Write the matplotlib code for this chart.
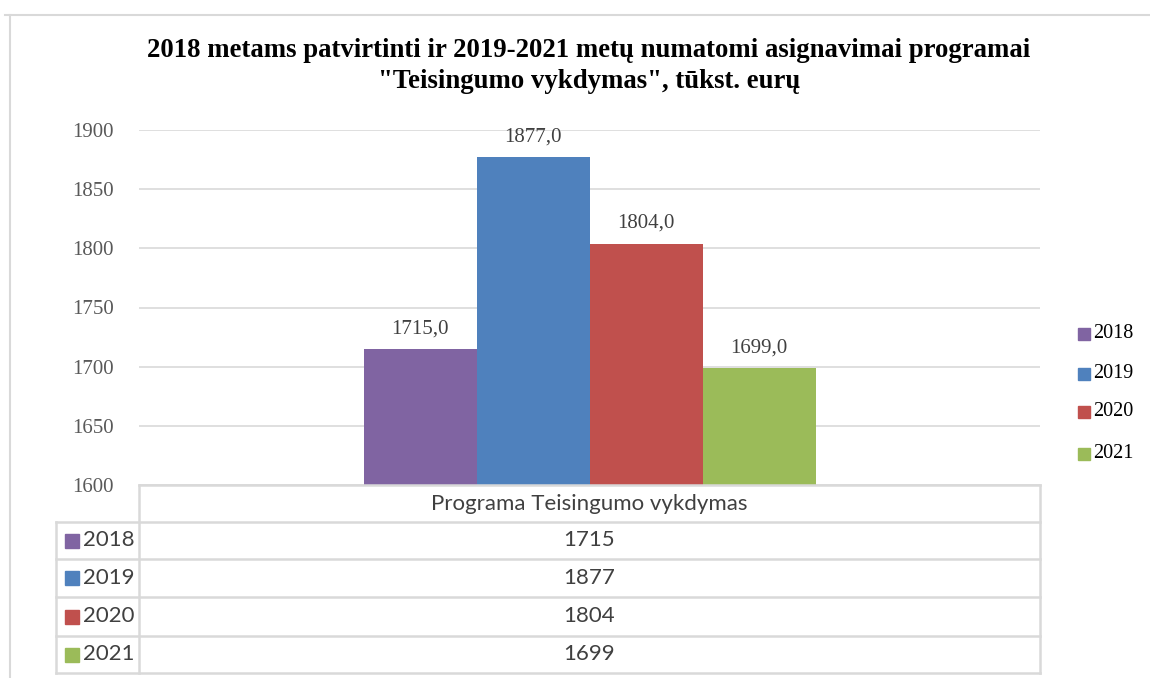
import matplotlib
matplotlib.use("Agg")
import matplotlib.pyplot as plt
from matplotlib.lines import Line2D
from matplotlib.patches import Rectangle

years = ["2018", "2019", "2020", "2021"]
values = [1715, 1877, 1804, 1699]
colors = ["#8064A2", "#4F81BD", "#C0504D", "#9BBB59"]
category = "Programa Teisingumo vykdymas"
title = "2018 metams patvirtinti ir 2019-2021 metų numatomi asignavimai programai\n\"Teisingumo vykdymas\", tūkst. eurų"
yticks = [1600, 1650, 1700, 1750, 1800, 1850, 1900]

W, H = 1150, 678
fig = plt.figure(figsize=(W / 100, H / 100), dpi=100)

def fx(px):
    return px / W

def fy(py):
    return 1 - py / H

grid_c = "#D9D9D9"
serif = "Liberation Serif"
sans = "Lato"

# outer frame
fig.add_artist(Line2D([fx(5), fx(1150)], [fy(15), fy(15)], color=grid_c, lw=1.5))
fig.add_artist(Line2D([fx(10), fx(10)], [fy(15), fy(678)], color=grid_c, lw=1.5))

# title
fig.text(fx(589), fy(66), title, ha="center", va="center", fontsize=19.3,
         fontweight="bold", family=serif, linespacing=1.32)

# main axes
left, right, top, bottom = 139, 1040, 130, 485
ax = fig.add_axes([fx(left), fy(bottom), fx(right - left), (bottom - top) / H])
ax.set_xlim(-0.5, 0.5)
ax.set_ylim(yticks[0], yticks[-1])
n = len(values)
bw = 113 / (right - left)
for i, (yr, v, c) in enumerate(zip(years, values, colors)):
    x = (i - (n - 1) / 2) * bw
    ax.bar(x, v - yticks[0], bottom=yticks[0], width=bw, color=c, label=yr, zorder=3)
    ax.text(x, v + 9, f"{v:.1f}".replace(".", ","), ha="center", va="bottom",
            fontsize=15, family=serif, color="#404040")
ax.set_yticks(yticks)
ax.set_yticklabels([str(t) for t in yticks], family=serif, fontsize=15, color="#595959")
ax.tick_params(axis="y", length=0, pad=18)
ax.set_xticks([])
ax.grid(axis="y", color=grid_c, lw=1.2, zorder=0)
for s in ax.spines.values():
    s.set_visible(False)

# legend on right
leg_y = [334, 374, 412, 454]
for yr, c, ly in zip(years, colors, leg_y):
    fig.add_artist(Rectangle((fx(1078), fy(ly + 6)), fx(12), 12 / H, color=c,
                             transform=fig.transFigure))
    fig.text(fx(1093), fy(ly), yr, ha="left", va="center", fontsize=14.5,
             family=serif, color="black")

# data table
tc = grid_c
rows_y = [485, 522, 559, 597, 636, 673]
tl = 56
def hline(x0, x1, y):
    fig.add_artist(Line2D([fx(x0), fx(x1)], [fy(y), fy(y)], color=tc, lw=1.8))
def vline(x, y0, y1):
    fig.add_artist(Line2D([fx(x), fx(x)], [fy(y0), fy(y1)], color=tc, lw=1.8))

hline(left, right, rows_y[0])
for y in rows_y[1:]:
    hline(tl, right, y)
vline(left, rows_y[0], rows_y[-1])
vline(right, rows_y[0], rows_y[-1])
vline(tl, rows_y[1], rows_y[-1])

fig.text(fx((left + right) / 2), fy((rows_y[0] + rows_y[1]) / 2), category,
         ha="center", va="center", fontsize=16, family=sans, color="#404040")
for i, (yr, v, c) in enumerate(zip(years, values, colors)):
    yc = (rows_y[i + 1] + rows_y[i + 2]) / 2
    fig.add_artist(Rectangle((fx(65), fy(yc + 7)), fx(14), 14 / H, color=c,
                             transform=fig.transFigure))
    fig.text(fx(83), fy(yc), yr, ha="left", va="center", fontsize=16,
             family=sans, color="#404040")
    fig.text(fx((left + right) / 2), fy(yc), str(v), ha="center", va="center",
             fontsize=16, family=sans, color="#404040")

fig.savefig("out.png", dpi=100)
